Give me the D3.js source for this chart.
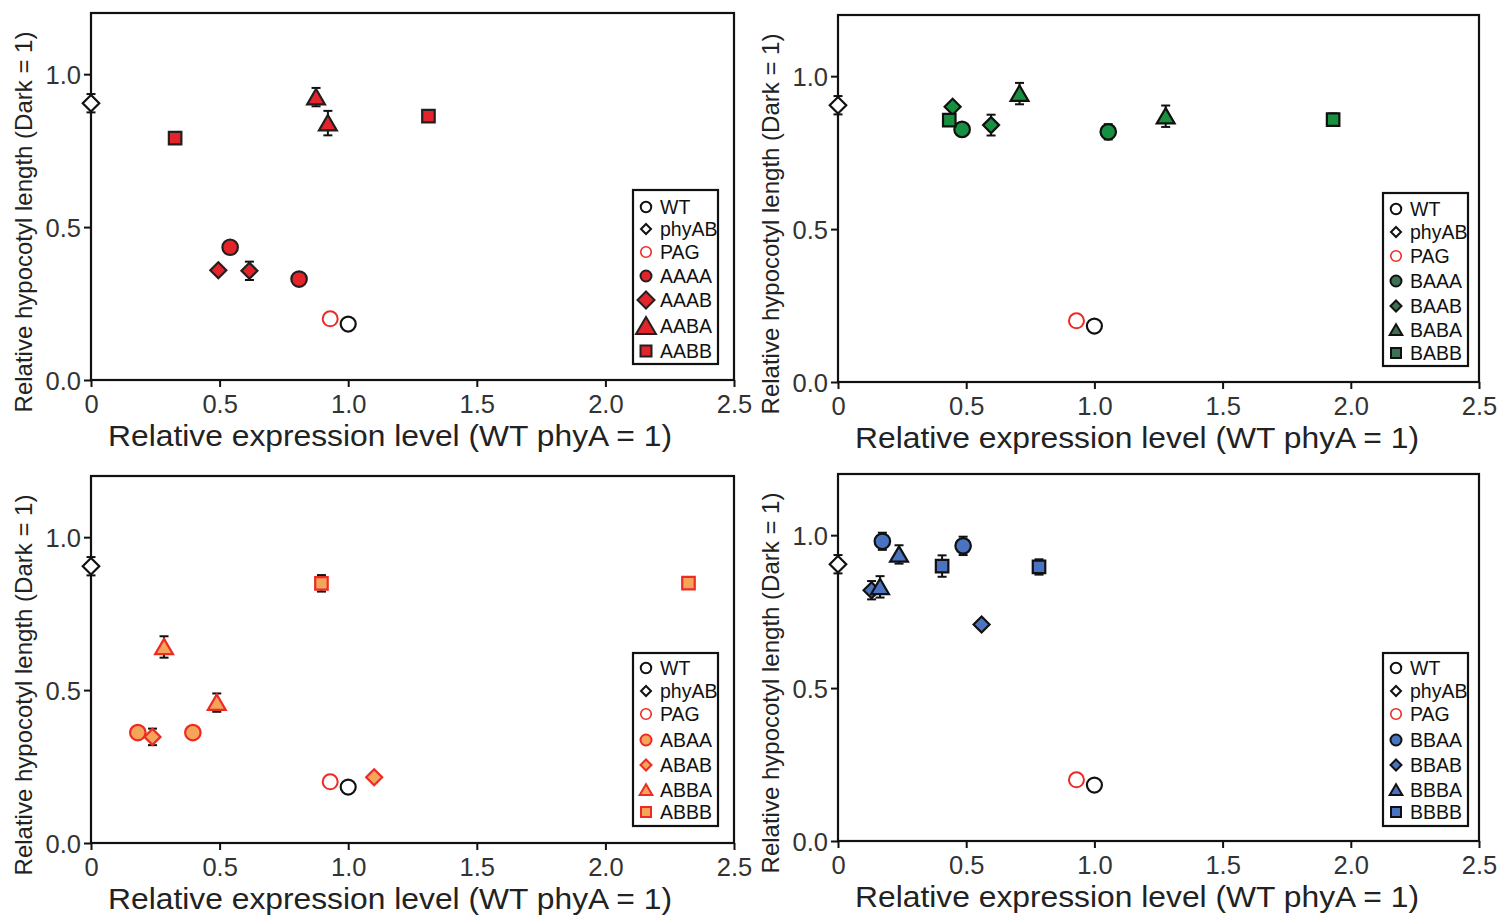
<!DOCTYPE html>
<html><head><meta charset="utf-8">
<script src="https://cdn.jsdelivr.net/npm/d3@7"></script>
<style>
body{margin:0;background:#fff;}
svg{display:block;font-family:"Liberation Sans",Arial,Helvetica,sans-serif;}
</style></head>
<body><svg id="chart" width="1498" height="915"></svg>
<script>
// ---------------- DATA ----------------
const xTicks = [0, 0.5, 1.0, 1.5, 2.0, 2.5];
const xTickLabels = ["0", "0.5", "1.0", "1.5", "2.0", "2.5"];
const yTicks = [0, 0.5, 1.0];
const yTickLabels = ["0.0", "0.5", "1.0"];
const xTitle = "Relative expression level (WT phyA = 1)";
const yTitle = "Relative hypocotyl length (Dark = 1)";

// reference points shared by all panels: [x, y, err]
const wtPoints = [[1.0, 0.183, 0]];
const phyABPoints = [[0, 0.905, 0.03]];
const pagPoints = [[0.93, 0.2, 0]];

// Panel A (red)
const aaaa = [[0.541, 0.434, 0.01], [0.809, 0.33, 0.01]];
const aaab = [[0.495, 0.359, 0.01], [0.616, 0.357, 0.03]];
const aaba = [[0.875, 0.925, 0.03], [0.921, 0.84, 0.04]];
const aabb = [[0.327, 0.791, 0.01], [1.312, 0.863, 0.01]];
// Panel B (green)
const baaa = [[0.484, 0.826, 0.01], [1.054, 0.818, 0.025]];
const baab = [[0.447, 0.9, 0.01], [0.597, 0.84, 0.034]];
const baba = [[0.708, 0.943, 0.035], [1.278, 0.869, 0.035]];
const babb = [[0.434, 0.856, 0.01], [1.931, 0.858, 0.02]];
// Panel C (orange)
const abaa = [[0.182, 0.361, 0.01], [0.396, 0.361, 0.01]];
const abab = [[0.239, 0.347, 0.027], [1.101, 0.215, 0.01]];
const abba = [[0.284, 0.641, 0.035], [0.489, 0.459, 0.03]];
const abbb = [[0.896, 0.849, 0.027], [2.323, 0.85, 0.01]];
// Panel D (blue)
const bbaa = [[0.173, 0.98, 0.028], [0.488, 0.965, 0.03]];
const bbab = [[0.131, 0.82, 0.03], [0.56, 0.708, 0.01]];
const bbba = [[0.164, 0.831, 0.035], [0.238, 0.937, 0.03]];
const bbbb = [[0.406, 0.899, 0.035], [0.784, 0.896, 0.025]];

const panelSeriesNames = [
  ["AAAA", "AAAB", "AABA", "AABB"],
  ["BAAA", "BAAB", "BABA", "BABB"],
  ["ABAA", "ABAB", "ABBA", "ABBB"],
  ["BBAA", "BBAB", "BBBA", "BBBB"]
];
const panelSeriesData = [
  [aaaa, aaab, aaba, aabb],
  [baaa, baab, baba, babb],
  [abaa, abab, abba, abbb],
  [bbaa, bbab, bbba, bbbb]
];

// ---------------- STYLE / LAYOUT ----------------
const panelStyles = [
  {fill: "#e3252b", stroke: "#231f20", legFill: "#e3252b", legStroke: "#231f20", legBig: true},
  {fill: "#17903f", stroke: "#111", legFill: "#3d7153", legStroke: "#111", legBig: false},
  {fill: "#f5a55a", stroke: "#ee2a24", legFill: "#f5a55a", legStroke: "#ee2a24", legBig: false},
  {fill: "#4a73c1", stroke: "#111", legFill: "#4a73c1", legStroke: "#111", legBig: false}
];
const panelLayout = [
  {left: 91, right: 734, top: 13, bottom: 380, leg: {x: 633, y: 190, w: 85, h: 174, rows: [207, 229, 252, 276, 300, 326, 351]}},
  {left: 838, right: 1479, top: 15, bottom: 382, leg: {x: 1383, y: 193, w: 85, h: 173, rows: [209, 232, 256, 281, 306, 330, 353]}},
  {left: 91, right: 734, top: 476, bottom: 843, leg: {x: 633, y: 653, w: 85, h: 173, rows: [668, 691, 714, 740, 765, 790, 812]}},
  {left: 838, right: 1479, top: 474, bottom: 841, leg: {x: 1383, y: 653, w: 85, h: 173, rows: [668, 691, 714, 740, 765, 790, 812]}}
];

function shapePath(kind, s) {
  const h = s / 2;
  if (kind === "circle") return d3.symbol(d3.symbolCircle, Math.PI * h * h)();
  if (kind === "square") return d3.symbol(d3.symbolSquare, s * s)();
  if (kind === "diamond") return `M0,${-h}L${h},0L0,${h}L${-h},0Z`;
  if (kind === "triangle") return `M0,${-h * 0.95}L${h * 1.05},${h * 0.85}L${-h * 1.05},${h * 0.85}Z`;
}
const kinds = ["circle", "diamond", "triangle", "square"];

const svg = d3.select("#chart");

panelLayout.forEach((L, pi) => {
  const st = panelStyles[pi];
  const x = d3.scaleLinear().domain([0, 2.5]).range([L.left, L.right]);
  const y = d3.scaleLinear().domain([0, 1.2]).range([L.bottom, L.top]);
  const g = svg.append("g");

  // axes
  const xAxis = d3.axisBottom(x).tickValues(xTicks).tickFormat((d, i) => xTickLabels[i]).tickSize(7).tickSizeOuter(0);
  const yAxis = d3.axisLeft(y).tickValues(yTicks).tickFormat((d, i) => yTickLabels[i]).tickSize(7).tickSizeOuter(0);
  const gx = g.append("g").attr("transform", `translate(0,${L.bottom})`).call(xAxis);
  const gy = g.append("g").attr("transform", `translate(${L.left},0)`).call(yAxis);
  [gx, gy].forEach(a => {
    a.select(".domain").remove();
    a.selectAll(".tick line").attr("stroke", "#111").attr("stroke-width", 2);
    a.selectAll(".tick text").attr("fill", "#333").attr("font-size", 25.5)
      .attr("font-family", "\"Liberation Sans\",Arial,sans-serif");
  });
  gx.selectAll(".tick text").attr("dy", null).attr("y", 33);
  gy.selectAll(".tick text").attr("x", -10).attr("dy", "0.36em");

  // frame
  g.append("rect").attr("x", L.left).attr("y", L.top)
    .attr("width", L.right - L.left).attr("height", L.bottom - L.top)
    .attr("fill", "none").attr("stroke", "#111").attr("stroke-width", 2.2);

  // titles
  g.append("text").attr("x", L.left + 299).attr("y", L.bottom + 66)
    .attr("text-anchor", "middle").attr("font-size", 30)
    .attr("textLength", 564).attr("lengthAdjust", "spacingAndGlyphs")
    .attr("fill", "#222").text(xTitle);
  g.append("text").attr("transform", `translate(${L.left - 59},${L.bottom - 158}) rotate(-90)`)
    .attr("text-anchor", "middle").attr("font-size", 24).attr("fill", "#222").text(yTitle);

  // marks
  const drawPts = (pts, kind, size, fill, stroke, sw) => {
    const grp = g.append("g");
    pts.forEach(p => {
      const cx = x(p[0]), cy = y(p[1]);
      if (p[2] > 0) {
        const y1 = y(p[1] + p[2]), y2 = y(p[1] - p[2]);
        grp.append("line").attr("x1", cx).attr("x2", cx).attr("y1", y1).attr("y2", y2).attr("stroke", "#111").attr("stroke-width", 2);
        [y1, y2].forEach(yy => grp.append("line").attr("x1", cx - 4.5).attr("x2", cx + 4.5).attr("y1", yy).attr("y2", yy).attr("stroke", "#111").attr("stroke-width", 2));
      }
      grp.append("path").attr("d", shapePath(kind, size)).attr("transform", `translate(${cx},${cy})`)
        .attr("fill", fill).attr("stroke", stroke).attr("stroke-width", sw);
    });
  };
  const sizes = {circle: 15.5, diamond: 16, triangle: 17, square: 12.5};
  panelSeriesData[pi].forEach((pts, si) => {
    const k = kinds[si];
    drawPts(pts, k, sizes[k], st.fill, st.stroke, 2.2);
  });
  drawPts(phyABPoints, "diamond", 16.5, "#fff", "#111", 2.2);
  drawPts(pagPoints, "circle", 15, "none", "#ee2a24", 2);
  drawPts(wtPoints, "circle", 15, "none", "#111", 2.2);

  // legend
  const lg = L.leg;
  const leg = g.append("g");
  const labels = ["WT", "phyAB", "PAG"].concat(panelSeriesNames[pi]);
  const legSym = [
    {k: "circle", s: 10.5, f: "none", c: "#111", w: 2},
    {k: "diamond", s: 10, f: "#fff", c: "#111", w: 2},
    {k: "circle", s: 10.5, f: "none", c: "#ee2a24", w: 1.6}
  ];
  const big = st.legBig;
  kinds.forEach(k => {
    const s = big ? ({circle: 11, diamond: 17, triangle: 19, square: 11}[k]) : ({circle: 11, diamond: 11, triangle: 12, square: 10}[k]);
    legSym.push({k: k, s: s, f: st.legFill, c: st.legStroke, w: 2});
  });
  labels.forEach((lab, i) => {
    const yy = lg.rows[i];
    const sym = legSym[i];
    leg.append("path").attr("d", shapePath(sym.k, sym.s)).attr("transform", `translate(${lg.x + 13},${yy})`)
      .attr("fill", sym.f).attr("stroke", sym.c).attr("stroke-width", sym.w);
    leg.append("text").attr("x", lg.x + 27).attr("y", yy).attr("dy", "0.36em")
      .attr("font-size", 19.5).attr("fill", "#111").text(lab);
  });
  leg.append("rect").attr("x", lg.x).attr("y", lg.y).attr("width", lg.w).attr("height", lg.h)
    .attr("fill", "none").attr("stroke", "#111").attr("stroke-width", 2.2);
});
</script>
</body></html>
